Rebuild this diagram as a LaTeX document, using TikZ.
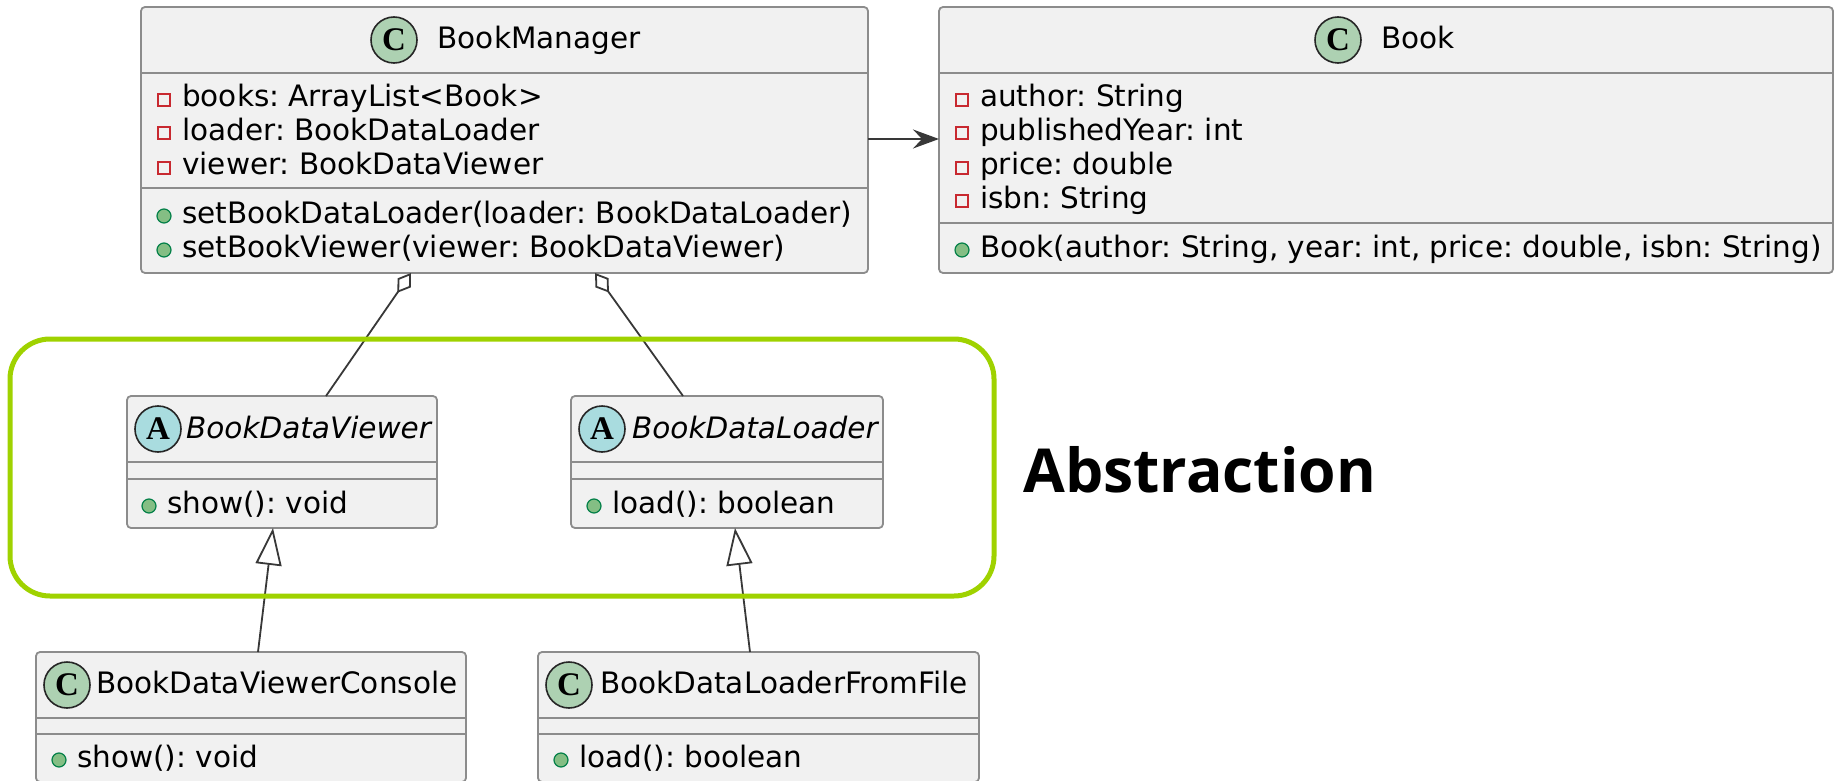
\documentclass[tikz,border=0pt]{standalone}
\usepackage{fontspec}
\setmainfont{DejaVu Sans}
\newfontfamily\spotfont{Liberation Serif}
\newfontfamily\notefont{Open Sans}
\usetikzlibrary{arrows.meta}
\definecolor{boxfill}{HTML}{F1F1F1}
\definecolor{boxline}{HTML}{8C8C8C}
\definecolor{inkline}{HTML}{383838}
\definecolor{privred}{HTML}{C82930}
\definecolor{pubgreen}{HTML}{84BE84}
\definecolor{publine}{HTML}{038048}
\definecolor{spotclass}{HTML}{ADD1B2}
\definecolor{spotabs}{HTML}{A9DCDF}
\definecolor{framegreen}{HTML}{9FD200}
\frenchspacing
\tikzset{
    umlbox/.style={draw=boxline,fill=boxfill,line width=1.8pt,rounded corners=4pt,outer sep=0pt,inner sep=0pt},
    umlsep/.style={draw=boxline,line width=1.8pt},
    rowtext/.style={anchor=base west,inner sep=0pt,font=\fontsize{29.5}{29.5}\selectfont},
    titletext/.style={rowtext},
    privicon/.style={draw=privred,line width=1.6pt,minimum size=12pt,inner sep=0pt},
    pubicon/.style={circle,draw=publine,fill=pubgreen,line width=1.2pt,minimum size=14pt,inner sep=0pt},
    spot/.style={circle,draw=black!85,line width=1.6pt,minimum size=46pt,inner sep=0pt,font=\spotfont\bfseries\fontsize{33}{33}\selectfont},
    conn/.style={draw=inkline,line width=1.8pt},
}
\begin{document}
\begin{tikzpicture}[x=1pt,y=-1pt]
    \useasboundingbox (0,0) rectangle (1839,781);

    % boxes
    \foreach \nm/\cx/\cy/\bw/\bh in {mgr/504.5/140/727/266, book/1386/140/894/266,
            vwr/282/462/310/132, ldr/727/462/312/132,
            con/251/717/430/130, fil/758.5/717/441/130} {
            \node[umlbox,minimum width=\bw pt,minimum height=\bh pt] (\nm) at (\cx,\cy) {};
        }
    \foreach \nm/\sy in {mgr/73,mgr/188,book/73,book/223,vwr/462,vwr/479,ldr/462,ldr/479,con/718,con/734,fil/718,fil/734} {
            \draw[umlsep] (\nm.west |- 0,\sy) -- (\nm.east |- 0,\sy);
        }

    % spots and titles
    \foreach \nm/\sx/\sy/\col/\ltr in {mgrs/394/40/spotclass/C, books/1338/40/spotclass/C,
            cons/67/685/spotclass/C, fils/569/685/spotclass/C,
            vwrs/158/429/spotabs/A, ldrs/602/429/spotabs/A} {
            \node[spot,fill=\col] (\nm) at (\sx,\sy) {\ltr};
        }
    \node[titletext] (mgrt) at (437.5,49) {BookManager};
    \node[titletext] (bookt) at (1381,49) {Book};
    \node[titletext] (cont) at (96,693) {BookDataViewerConsole};
    \node[titletext] (filt) at (600,693) {BookDataLoaderFromFile};
    \node[titletext,font=\fontsize{29.5}{29.5}\selectfont\itshape] (vwrt) at (186,438) {BookDataViewer};
    \node[titletext,font=\fontsize{29.5}{29.5}\selectfont\itshape] (ldrt) at (632,438) {BookDataLoader};

    % private rows
    \foreach \nm/\ix/\by/\txt in {mgra/164/107/{books: ArrayList<Book>},
            mgrb/164/140/{loader: BookDataLoader},
            mgrc/164/175/{viewer: BookDataViewer},
            booka/962/107/{author: String},
            bookb/962/140/{publishedYear: int},
            bookc/962/175/{price: double},
            bookd/962/208/{isbn: String}} {
            \node[privicon] (\nm i) at (\ix,\by-7) {};
            \node[rowtext] (\nm) at (\ix+18,\by) {\txt};
        }
    % public rows
    \foreach \nm/\ix/\by/\txt in {mgrd/164/223/{setBookDataLoader(loader: BookDataLoader)},
            mgre/164/257/{setBookViewer(viewer: BookDataViewer)},
            booke/962/257/{Book(author: String, year: int, price: double, isbn: String)},
            vwra/149/513/{show(): void},
            ldra/594/513/{load(): boolean},
            cona/59/767/{show(): void},
            fila/561/767/{load(): boolean}} {
            \node[pubicon] (\nm i) at (\ix,\by-7) {};
            \node[rowtext] (\nm) at (\ix+18,\by) {\txt};
        }

    % connectors
    \draw[conn,-{Stealth[length=26pt,width=19pt,inset=9pt]}] (mgr.east |- 0,139) -- (book.west |- 0,139);
    \begin{scope}[conn]
        \draw[{Diamond[open,length=24pt,width=16pt]}-] ([xshift=-93.5pt]mgr.south) -- ([xshift=44pt]vwr.north);
        \draw[{Diamond[open,length=24pt,width=16pt]}-] ([xshift=90.5pt]mgr.south) -- ([xshift=-44pt]ldr.north);
        \draw[{Triangle[open,length=37pt,width=26pt]}-] ([xshift=-9pt]vwr.south) -- ([xshift=7pt]con.north);
        \draw[{Triangle[open,length=37pt,width=26pt]}-] ([xshift=8pt]ldr.south) -- ([xshift=-8.5pt]fil.north);
    \end{scope}

    % Abstraction
    \node[draw=framegreen,line width=5pt,rounded corners=40pt,minimum width=984pt,minimum height=257pt,inner sep=0pt] (frame) at (502,467.5) {};
    \node[anchor=base west,inner sep=0pt,font=\notefont\bfseries\fontsize{60.6}{60.6}\selectfont] (note) at (1023,492) {Abstraction};
\end{tikzpicture}
\end{document}
